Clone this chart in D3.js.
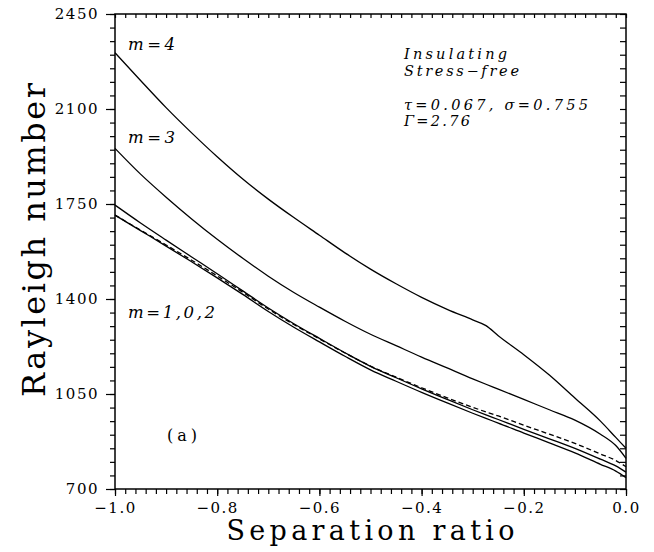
<!DOCTYPE html>
<html>
<head>
<meta charset="utf-8">
<script src="https://cdn.jsdelivr.net/npm/d3@7"></script>
<style>
	body { margin: 0; background: #fff; }
	svg { display: block; }
	text { font-family: "DejaVu Serif", "Liberation Serif", serif; fill: #000; }
</style>
</head>
<body>
<script>
// separation ratio (shared x values for every curve)
const separation = [-1, -0.95, -0.9, -0.85, -0.8, -0.75, -0.7, -0.65, -0.6, -0.55, -0.5, -0.45, -0.4, -0.35, -0.3, -0.274, -0.25, -0.2, -0.15, -0.1, -0.05, -0.02, 0];

// critical Rayleigh numbers
const rayleighM4 = [2307, 2205, 2105, 2012, 1924, 1842, 1768, 1700, 1635, 1570, 1510, 1456, 1406, 1362, 1323, 1302, 1265, 1195, 1120, 1035, 950, 890, 850];
const rayleighM3 = [1955, 1860, 1775, 1695, 1620, 1550, 1484, 1424, 1370, 1318, 1270, 1228, 1186, 1146, 1106, 1086, 1068, 1030, 992, 954, 902, 860, 813];
const rayleighM1 = [1746, 1680, 1617, 1555, 1493, 1430, 1367, 1309, 1255, 1202, 1152, 1110, 1069, 1030, 992, 973, 956, 920, 885, 850, 810, 785, 762];
const rayleighM0 = [1709, 1654, 1599, 1543, 1485, 1425, 1363, 1306, 1253, 1201, 1153, 1112, 1073, 1036, 1001, 984, 969, 935, 902, 868, 829, 805, 782];
const rayleighM2 = [1709, 1652, 1595, 1537, 1478, 1417, 1354, 1296, 1242, 1189, 1139, 1097, 1056, 1017, 979, 960, 943, 906, 870, 833, 791, 766, 742];

const xMajor = [-1.0, -0.8, -0.6, -0.4, -0.2, 0.0];
const yMajor = [700, 1050, 1400, 1750, 2100, 2450];

const series = [
	{ name: "m=4", values: rayleighM4, dash: null },
	{ name: "m=3", values: rayleighM3, dash: null },
	{ name: "m=1", values: rayleighM1, dash: null },
	{ name: "m=0", values: rayleighM0, dash: "5,3" },
	{ name: "m=2", values: rayleighM2, dash: null }
];

const w = 654, h = 552,
	  padLeft = 115, padRight = 626, padTop = 14, padBottom = 489;

const svg = d3.select("body")
			  .append("svg")
			  .attr("width", w)
			  .attr("height", h);

const xScale = d3.scaleLinear().domain([-1, 0]).range([padLeft, padRight]),
	  yScale = d3.scaleLinear().domain([700, 2450]).range([padBottom, padTop]);

const xMinor = d3.range(-1, 0.0001, 0.02),
	  yMinor = d3.range(700, 2451, 50);

// minor / major ticks, outward on left + bottom, inward on top + right
const addAxis = (axis, transform, cls) => {
	const g = svg.append("g")
				 .attr("class", cls)
				 .attr("transform", transform)
				 .call(axis);
	g.select(".domain").remove();
	g.selectAll("line").attr("stroke", "#000").attr("stroke-width", 1.2);
	return g;
};

addAxis(d3.axisBottom(xScale).tickValues(xMinor).tickSize(5).tickFormat(""), "translate(0," + padBottom + ")", "xMinor");
const xAx = addAxis(d3.axisBottom(xScale).tickValues(xMajor).tickSize(7).tickPadding(6)
				.tickFormat(d => d === 0 ? "0.0" : "\u2212" + Math.abs(d).toFixed(1)), "translate(0," + padBottom + ")", "xMajor");
addAxis(d3.axisBottom(xScale).tickValues(xMinor).tickSize(4).tickFormat(""), "translate(0," + padTop + ")", "xTop");

addAxis(d3.axisLeft(yScale).tickValues(yMinor).tickSize(5).tickFormat(""), "translate(" + padLeft + ",0)", "yMinor");
const yAx = addAxis(d3.axisLeft(yScale).tickValues(yMajor).tickSize(9).tickPadding(7).tickFormat(d3.format("d")), "translate(" + padLeft + ",0)", "yMajor");
addAxis(d3.axisLeft(yScale).tickValues(yMinor).tickSize(6).tickFormat(""), "translate(" + padRight + ",0)", "yRight");

xAx.selectAll("text")
   .style("font-family", "DejaVu Serif")
   .style("font-size", "15px")
   .style("letter-spacing", "1.5px");
yAx.selectAll("text")
   .style("font-family", "DejaVu Serif")
   .style("font-size", "15px")
   .style("letter-spacing", "1.5px");

// frame
svg.append("rect")
   .attr("x", padLeft)
   .attr("y", padTop)
   .attr("width", padRight - padLeft)
   .attr("height", padBottom - padTop)
   .attr("fill", "none")
   .attr("stroke", "#000")
   .attr("stroke-width", 1.5);

// curves
const line = d3.line()
			   .x((d, i) => xScale(separation[i]))
			   .y(d => yScale(d))
			   .curve(d3.curveMonotoneX);

svg.selectAll("path.curve")
   .data(series)
   .enter()
   .append("path")
   .attr("class", "curve")
   .attr("d", d => line(d.values))
   .attr("fill", "none")
   .attr("stroke", "#000")
   .attr("stroke-width", 1.3)
   .attr("stroke-dasharray", d => d.dash);

// axis titles
svg.append("text")
   .text("Separation ratio")
   .attr("x", (padLeft + padRight) / 2)
   .attr("y", 540)
   .attr("text-anchor", "middle")
   .attr("textLength", 288)
   .attr("lengthAdjust", "spacing")
   .style("font-size", "27px");

svg.append("text")
   .text("Rayleigh number")
   .attr("transform", "translate(45,240) rotate(-90)")
   .attr("text-anchor", "middle")
   .attr("textLength", 314)
   .attr("lengthAdjust", "spacing")
   .style("font-size", "32px");

// annotations
const italicLabel = (txt, x, y, len, size) => {
	svg.append("text")
	   .text(txt)
	   .attr("x", x)
	   .attr("y", y)
	   .attr("textLength", len)
	   .attr("lengthAdjust", "spacing")
	   .style("font-style", "italic")
	   .style("font-size", size + "px");
};

italicLabel("m=4", 128, 50, 47, 16.5);
italicLabel("m=3", 128, 143, 47, 16.5);
italicLabel("m=1,0,2", 128, 318, 87, 16.5);
italicLabel("Insulating", 404, 59, 103, 14.5);
italicLabel("Stress\u2212free", 404, 76, 115, 14.5);
italicLabel("\u03c4=0.067,  \u03c3=0.755", 404, 110, 184, 14.5);
italicLabel("\u0393=2.76", 404, 126, 66, 14.5);

svg.append("text")
   .text("(a)")
   .attr("x", 167)
   .attr("y", 441)
   .attr("textLength", 30)
   .attr("lengthAdjust", "spacing")
   .style("font-size", "16px");
</script>
</body>
</html>
